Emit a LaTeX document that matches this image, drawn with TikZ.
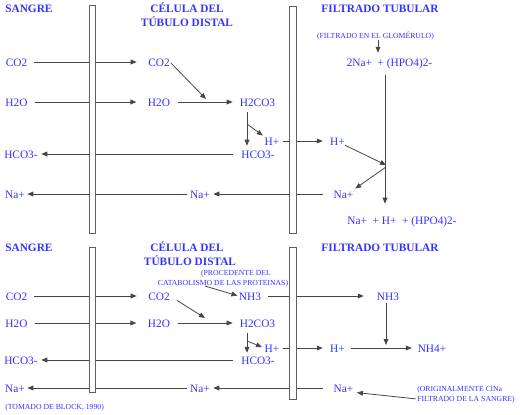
\documentclass[tikz,border=0pt]{standalone}
\usepackage{fontspec}
\setmainfont{Liberation Serif}
\usetikzlibrary{arrows.meta}
\definecolor{txtblue}{RGB}{51,51,255}
\definecolor{linegray}{RGB}{70,70,70}
\newcommand{\lblf}{\fontsize{8.5}{10}\selectfont}
\newcommand{\hdrf}{\fontsize{8.5}{10}\selectfont\bfseries}
\newcommand{\smallcapsf}{\fontsize{5.8}{7}\selectfont}
\tikzset{
  lbl/.style={text=txtblue, font=\lblf, inner sep=0pt, text height=6pt, text depth=0pt},
  hdr/.style={text=txtblue, font=\hdrf, inner sep=0pt, text height=6.2pt, text depth=0pt},
  note/.style={text=txtblue, font=\smallcapsf, inner sep=0pt, text height=4.2pt, text depth=0pt},
  arr/.style={draw=linegray, line width=0.6pt, -{Triangle[length=4.5pt,width=3.6pt]}},
  membrane/.style={draw=gray!75!black, fill=white, line width=0.7pt}
}
\begin{document}
\begin{tikzpicture}[x=0.75pt,y=-0.75pt]
\useasboundingbox (0,0) rectangle (520,414);

% ---------------- TOP PANEL ----------------
\node[hdr, anchor=west] (sangre1) at (5,8) {SANGRE};
\node[hdr] (cel1a) at (187,8) {CÉLULA DEL};
\node[hdr] (cel1b) at (187,22) {TÚBULO DISTAL};
\node[hdr] (filt1) at (380,8) {FILTRADO TUBULAR};
\node[note] (glom) at (375.5,36) {(FILTRADO EN EL GLOMÉRULO)};
\node[lbl] (hpo) at (389.5,62) {2Na+\ \ + (HPO4)2-};
\node[lbl] (fin) at (402,220) {Na+\ \ +\ H+\ \ +\ (HPO4)2-};

\node[lbl] (co2s) at (16.5,62) {CO2};
\node[lbl] (h2os) at (16.5,102) {H2O};
\node[lbl] (hco3s) at (21,154) {HCO3-};
\node[lbl] (nas) at (15,194) {Na+};

\node[lbl] (co2c) at (159,62) {CO2};
\node[lbl] (h2oc) at (159,102) {H2O};
\node[lbl] (h2co3) at (257.5,102) {H2CO3};
\node[lbl] (hp1) at (272,141) {H+};
\node[lbl] (hco3c) at (258,154) {HCO3-};
\node[lbl] (nac) at (200,194) {Na+};

\node[lbl] (hr1) at (337.5,141) {H+};
\node[lbl] (nar1) at (343.5,194) {Na+};

\coordinate (vx1) at (378,0);
\coordinate (vx2) at (385,0);
\coordinate (vx3) at (247,0);
\coordinate (m1) at (206,99);
\coordinate (d1) at (247,124);
\coordinate (j1) at (386,165);
\coordinate (j1b) at (386,167);

\draw[arr, shorten <=0.7pt, shorten >=3.7pt] (glom.south -| vx1) -- (hpo.north -| vx1);
\draw[arr, shorten <=6.7pt, shorten >=9pt] (hpo.south -| vx2) -- (fin.north -| vx2);
\draw[arr, shorten <=5.1pt, shorten >=8.5pt] (co2s.east) -- (co2c.west);
\draw[arr, shorten <=5.1pt, shorten >=8.5pt] (h2os.east) -- (h2oc.west);
\draw[arr, shorten <=6pt, shorten >=5.2pt] (h2oc.east) -- (h2co3.west);
\draw[arr, shorten <=1pt] (co2c.east) -- (m1);
\draw[arr, shorten <=4.5pt, shorten >=3pt] (h2co3.south -| vx3) -- (hco3c.north -| vx3);
\draw[arr, shorten >=1.5pt] (d1) -- (hp1.north west);
\draw[arr, shorten <=2.8pt, shorten >=5.4pt] (hp1.east) -- (hr1.west);
\draw[arr, shorten <=6.2pt, shorten >=2.5pt] (hco3c.west) -- (hco3s.east);
\draw[arr, shorten <=8pt, shorten >=2.4pt] (nar1.west) -- (nac.east);
\draw[arr, shorten <=2.4pt, shorten >=1.7pt] (nac.west) -- (nas.east);
\draw[arr] (hr1.south east) -- (j1);
\draw[arr, shorten >=1.5pt] (j1b) -- (nar1.north east);

\draw[membrane] (89,5) rectangle (95,233);
\draw[membrane] (289,6) rectangle (296,233);

% ---------------- BOTTOM PANEL ----------------
\node[hdr, anchor=west] (sangre2) at (5,247) {SANGRE};
\node[hdr] (cel2a) at (187,247) {CÉLULA DEL};
\node[hdr] (cel2b) at (190,261) {TÚBULO DISTAL};
\node[hdr] (filt2) at (380,247) {FILTRADO TUBULAR};
\node[note] (proc1) at (236,273) {(PROCEDENTE DEL};
\node[note] (proc2) at (223,283) {CATABOLISMO DE LAS PROTEINAS)};

\node[lbl] (co2s2) at (16.5,296) {CO2};
\node[lbl] (h2os2) at (16.5,323) {H2O};
\node[lbl] (hco3s2) at (21,360) {HCO3-};
\node[lbl] (nas2) at (15,388) {Na+};

\node[lbl] (co2c2) at (159,296) {CO2};
\node[lbl] (h2oc2) at (159,323) {H2O};
\node[lbl] (nh3c) at (250,296) {NH3};
\node[lbl] (h2co3b) at (257.5,323) {H2CO3};
\node[lbl] (hp2) at (272,348) {H+};
\node[lbl] (hco3c2) at (258,360) {HCO3-};
\node[lbl] (nac2) at (200,388) {Na+};

\node[lbl] (nh3r) at (388,296) {NH3};
\node[lbl] (hr2) at (337.5,348) {H+};
\node[lbl] (nh4) at (432,348) {NH4+};
\node[lbl] (nar2) at (343.5,388) {Na+};

\node[note, anchor=west] (orig1) at (417,389) {(ORIGINALMENTE ClNa};
\node[note, anchor=west] (orig2) at (417,399) {FILTRADO DE LA SANGRE)};
\node[note, anchor=west] (tomado) at (5,407) {(TOMADO DE BLOCK, 1990)};

\coordinate (p1) at (205,0);
\coordinate (m2) at (386,345);
\coordinate (m3) at (205,318);
\coordinate (d2) at (247,341);

\draw[arr, shorten >=1pt] (proc2.south -| p1) -- (nh3c.west);
\draw[arr, shorten <=5.3pt, shorten >=9.7pt] (nh3c.east) -- (nh3r.west);
\draw[arr, shorten <=2.2pt] (nh3r.south -| m2) -- (m2);
\draw[arr, shorten <=5.1pt, shorten >=8.5pt] (co2s2.east) -- (co2c2.west);
\draw[arr, shorten <=5.1pt, shorten >=8.5pt] (h2os2.east) -- (h2oc2.west);
\draw[arr, shorten <=6pt, shorten >=5.2pt] (h2oc2.east) -- (h2co3b.west);
\draw[arr, shorten <=6pt] (co2c2.east) -- (m3);
\draw[arr, shorten <=4.5pt, shorten >=2.2pt] (h2co3b.south -| vx3) -- (hco3c2.north -| vx3);
\draw[arr, shorten >=2pt] (d2) -- (hp2.west);
\draw[arr, shorten <=2.8pt, shorten >=5.4pt] (hp2.east) -- (hr2.west);
\draw[arr, shorten <=4.6pt, shorten >=4.3pt] (hr2.east) -- (nh4.west);
\draw[arr, shorten <=6.2pt, shorten >=2.5pt] (hco3c2.west) -- (hco3s2.east);
\draw[arr, shorten <=8pt, shorten >=2.4pt] (nar2.west) -- (nac2.east);
\draw[arr, shorten <=2.4pt, shorten >=1.7pt] (nac2.west) -- (nas2.east);
\draw[arr, shorten <=1pt, shorten >=2.5pt] (orig2.west) -- (nar2.south east);

\draw[membrane] (89,247) rectangle (95,392);
\draw[membrane] (289,247) rectangle (296,399);
\end{tikzpicture}
\end{document}
